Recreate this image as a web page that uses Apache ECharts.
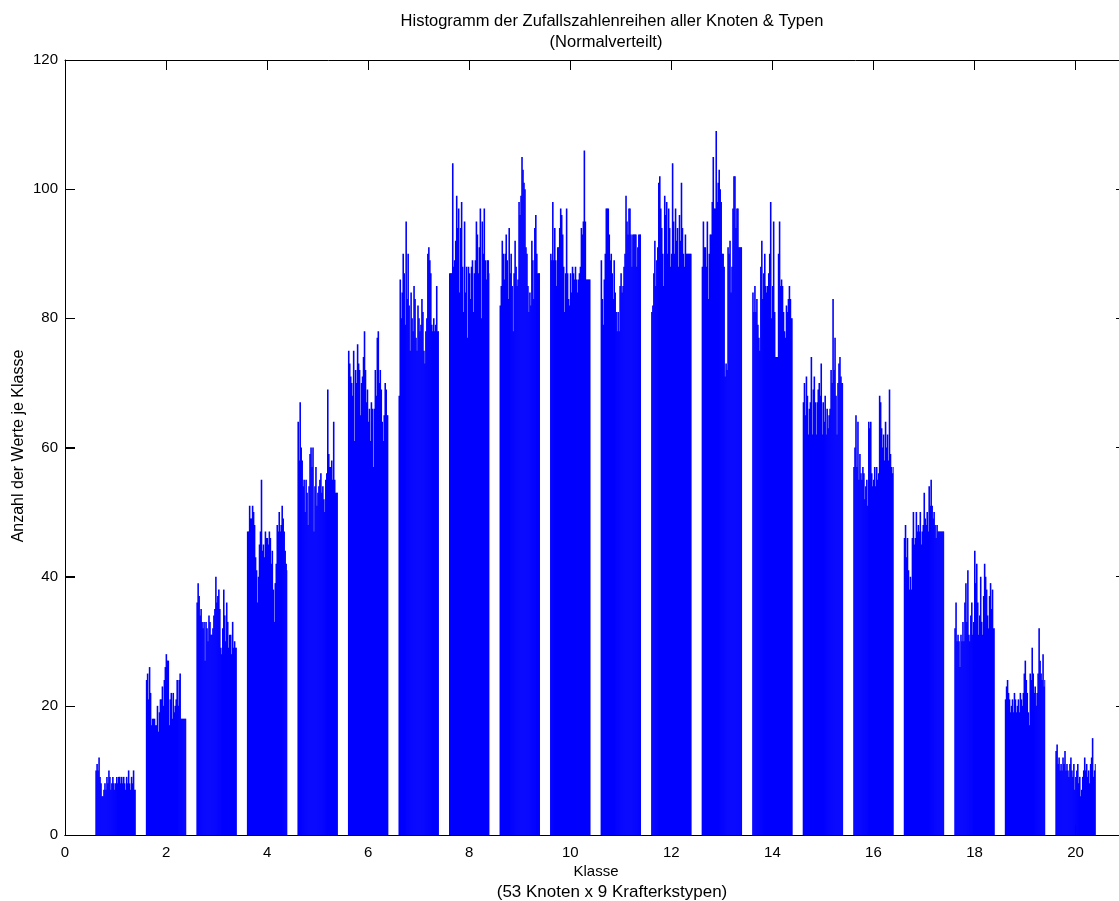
<!DOCTYPE html>
<html>
<head>
<meta charset="utf-8">
<script src="https://cdn.jsdelivr.net/npm/echarts@6/dist/echarts.min.js"></script>
<style>
  html, body { margin: 0; padding: 0; background: #fff; }
  #chart { width: 1119px; height: 901px; }
</style>
</head>
<body>
<div id="chart"></div>
<script>
// Class numbers (x positions of the bar groups)
const classes = [1,2,3,4,5,6,7,8,9,10,11,12,13,14,15,16,17,18,19,20];

// Counts per class, one value per thin bar inside each group (left to right)
const counts01 = [10,11,10,12,9,8,6,6,7,8,7,9,8,10,9,7,8,9,8,7,8,9,8,9,9,8,9,8,9,8,7,9,8,10,8,7,9,8,10,7,7];
const counts02 = [24,25,21,26,22,17,18,18,18,17,17,20,16,19,21,21,23,20,24,26,28,27,27,17,21,22,18,22,19,20,21,24,20,24,25,18,18,18,18,18,18];
const counts03 = [36,39,37,34,35,33,32,33,27,33,32,30,34,33,31,31,32,34,35,40,36,37,38,35,29,28,32,38,34,30,36,33,29,31,31,28,33,29,30,29,29];
const counts04 = [47,47,51,49,49,51,50,48,43,41,36,40,45,47,55,44,45,43,47,46,46,45,47,46,42,44,38,33,39,42,48,47,50,47,48,51,49,47,44,42,41];
const counts05 = [64,58,67,60,58,54,55,50,55,53,48,54,59,60,57,60,47,54,57,51,53,54,55,56,53,54,52,50,55,56,69,59,57,57,58,55,64,55,53,53,53];
const counts06 = [75,73,71,70,68,75,61,72,70,76,73,72,65,70,71,74,78,72,67,69,64,66,61,67,66,57,66,72,68,77,78,70,72,69,64,61,65,70,69,65,65];
const counts07 = [68,86,80,84,90,87,79,95,83,90,82,75,84,80,78,85,83,77,75,82,80,78,79,83,81,75,73,78,80,90,91,89,87,79,78,80,78,79,85,78,78];
const counts08 = [87,87,87,104,88,89,92,99,94,97,84,94,98,88,81,95,84,88,77,88,87,83,88,89,81,87,89,95,93,87,91,97,80,95,90,97,89,86,89,89,87];
const counts09 = [82,85,92,90,86,90,93,89,83,94,87,90,85,78,87,92,88,85,86,98,96,99,105,103,101,100,91,90,85,81,84,82,92,89,83,94,96,90,87,87,87];
const counts10 = [90,89,98,89,94,89,85,91,91,94,97,96,93,88,81,87,97,87,83,82,87,84,88,87,86,88,86,84,86,87,88,94,93,95,106,95,86,86,86,86,86];
const counts11 = [89,83,79,86,90,97,97,97,93,89,90,87,83,89,84,81,78,81,78,85,87,84,85,88,90,99,95,93,97,97,93,88,93,93,93,93,88,91,93,93,93];
const counts12 = [81,82,87,92,85,89,91,101,102,97,94,90,85,99,96,98,90,97,94,88,90,104,95,90,97,92,94,88,96,92,101,94,90,88,93,90,90,90,90,90,90];
const counts13 = [88,95,91,91,88,95,83,90,93,93,98,105,97,97,109,98,101,103,100,98,90,90,88,71,73,72,91,90,92,84,88,97,102,102,94,97,97,91,91,91,91];
const counts14 = [84,81,85,81,83,79,77,75,88,92,83,87,90,85,84,85,87,90,98,80,85,95,81,74,74,74,90,95,85,86,85,81,78,77,82,81,83,85,83,80,80];
const counts15 = [67,70,65,71,68,62,66,67,74,62,69,71,67,62,67,69,70,68,73,62,67,64,68,62,66,63,65,66,72,70,83,72,77,68,62,70,73,74,71,70,70];
const counts16 = [57,60,65,57,64,55,59,56,55,57,56,52,54,55,51,64,63,64,56,54,55,57,54,57,55,56,68,67,63,60,62,58,64,60,62,58,69,59,57,56,57];
const counts17 = [46,48,43,46,41,38,40,38,46,50,45,46,50,47,48,47,50,45,47,48,53,49,48,50,47,54,51,55,51,49,50,48,46,48,47,47,47,47,47,47,47];
const counts18 = [32,36,30,31,30,26,31,30,33,30,36,39,33,41,31,30,34,36,31,33,44,39,42,36,31,34,40,33,31,37,42,40,38,34,32,37,39,35,38,32,32];
const counts19 = [21,23,24,22,21,19,20,21,19,22,21,19,20,21,19,22,21,20,22,25,27,24,22,19,17,25,24,29,25,22,23,20,22,25,32,27,25,24,28,23,24];
const counts20 = [13,14,11,12,10,11,10,12,11,13,10,11,10,9,11,12,10,9,11,7,9,10,11,8,9,6,7,9,10,12,10,11,9,10,8,11,12,15,9,10,11];

const countsPerClass = [counts01,counts02,counts03,counts04,counts05,counts06,counts07,counts08,counts09,counts10,
                        counts11,counts12,counts13,counts14,counts15,counts16,counts17,counts18,counts19,counts20];

// Axis ticks / ranges (the plot box runs a little past the right page edge, to x = 21)
const xTickStep = 2;
const yTickStep = 20;
const yTickValues = [0, 20, 40, 60, 80, 100, 120];
const xVisibleMax = 20.86;
const yMax = 120;

// Half the width of one bar group, in class units
const GROUP_HALF = 0.4;
// Length of the inward tick marks, px
const TICK_LEN = 10;

// Flatten to [class, indexInGroup, count, barsInGroup]
const barData = [];
classes.forEach((c, ci) => {
  const vals = countsPerClass[ci];
  vals.forEach((v, i) => barData.push([c, i, v, vals.length]));
});

function renderBar(params, api) {
  const cls = api.value(0);
  const idx = api.value(1);
  const val = api.value(2);
  const n = api.value(3);
  const step = (2 * GROUP_HALF) / n;
  const x0 = cls - GROUP_HALF + idx * step;
  const pTop = api.coord([x0, val]);
  const pBase = api.coord([x0 + step, 0]);
  const extra = idx < n - 1 ? 0.6 : 0;
  return {
    type: 'rect',
    shape: { x: pTop[0], y: pTop[1], width: pBase[0] - pTop[0] + extra, height: pBase[1] - pTop[1] },
    style: { fill: '#0000ff' }
  };
}

// Inward tick marks on the left edge of the box, placed on the y scale
function renderLeftTick(params, api) {
  const p = api.coord([0, api.value(1)]);
  return {
    type: 'rect',
    shape: { x: Math.round(p[0]), y: Math.round(p[1]), width: TICK_LEN, height: 1 },
    style: { fill: '#000' }
  };
}

const FONT = '"Liberation Sans", Arial, Helvetica, sans-serif';
function axisLine(show) {
  return { show: show, onZero: false, lineStyle: { color: '#000', width: 1 } };
}
function tickIn(len) {
  return { show: true, inside: true, length: len, lineStyle: { color: '#000', width: 1 } };
}
// Unlabelled axis used only for the inward tick marks of the box
function tickOnlyX(position) {
  return {
    type: 'value', position: position, min: 0, max: xVisibleMax, interval: xTickStep,
    axisLine: axisLine(true), axisTick: tickIn(TICK_LEN), splitLine: { show: false }, axisLabel: { show: false }
  };
}

const chart = echarts.init(document.getElementById('chart'), null, { renderer: 'canvas' });
chart.setOption({
  animation: false,
  backgroundColor: '#fff',
  grid: { left: 65, top: 60, right: 0, bottom: 66, containLabel: false },
  graphic: [
    { type: 'text', x: 612, y: 21, style: { text: 'Histogramm der Zufallszahlenreihen aller Knoten & Typen', align: 'center', verticalAlign: 'middle', font: '16.5px ' + FONT, fill: '#000' } },
    { type: 'text', x: 606, y: 42, style: { text: '(Normalverteilt)', align: 'center', verticalAlign: 'middle', font: '16.5px ' + FONT, fill: '#000' } },
    { type: 'text', x: 596, y: 872, style: { text: 'Klasse', align: 'center', verticalAlign: 'middle', font: '15px ' + FONT, fill: '#000' } },
    { type: 'text', x: 612, y: 892, style: { text: '(53 Knoten x 9 Krafterkstypen)', align: 'center', verticalAlign: 'middle', font: '17px ' + FONT, fill: '#000' } },
    { type: 'text', x: 19, y: 446, rotation: Math.PI / 2, style: { text: 'Anzahl der Werte je Klasse', align: 'center', verticalAlign: 'middle', font: '16px ' + FONT, fill: '#000' } }
  ],
  xAxis: [
    {
      type: 'value', position: 'bottom', min: 0, max: xVisibleMax, interval: xTickStep,
      axisLine: axisLine(true), axisTick: { show: false }, splitLine: { show: false },
      axisLabel: { show: true, margin: 10, color: '#000', fontSize: 15, fontFamily: FONT, showMaxLabel: false }
    },
    tickOnlyX('top'),
    tickOnlyX('bottom')
  ],
  yAxis: [
    {
      type: 'value', position: 'left', min: 0, max: yMax, interval: yTickStep,
      axisLine: axisLine(true), axisTick: tickIn(TICK_LEN), splitLine: { show: false },
      axisLabel: { show: true, margin: 7, color: '#000', fontSize: 15, fontFamily: FONT }
    },
    {
      type: 'value', position: 'right', min: 0, max: yMax, interval: yTickStep,
      axisLine: axisLine(false), axisTick: tickIn(3), splitLine: { show: false }, axisLabel: { show: false }
    }
  ],
  series: [
    {
      type: 'custom',
      xAxisIndex: 0,
      yAxisIndex: 0,
      renderItem: renderBar,
      encode: { x: 0, y: 2 },
      data: barData,
      z: 1
    },
    {
      type: 'custom',
      xAxisIndex: 0,
      yAxisIndex: 0,
      renderItem: renderLeftTick,
      encode: { x: 0, y: 1 },
      data: yTickValues.map(v => [0, v]),
      clip: false,
      silent: true,
      z: 5
    }
  ]
});
</script>
</body>
</html>
